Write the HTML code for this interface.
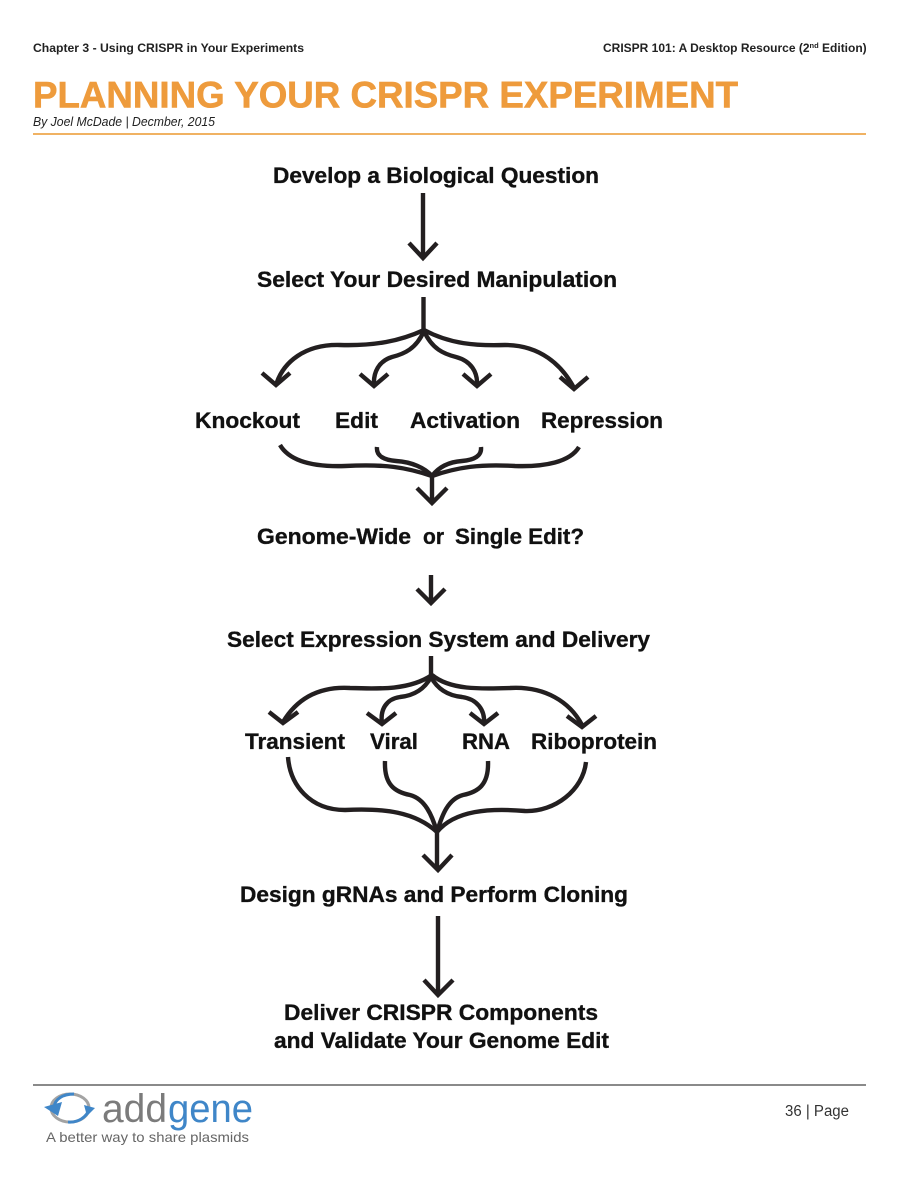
<!DOCTYPE html>
<html lang="en">
<head>
<meta charset="utf-8">
<title>Planning Your CRISPR Experiment</title>
<style>
html,body{margin:0;padding:0;background:#fff;width:910px;height:1200px;overflow:hidden}
svg{display:block}
text{font-family:"Liberation Sans",Arial,sans-serif}
.h{font-size:12.2px;font-weight:bold;fill:#222}
.n{font-size:22.5px;font-weight:bold;fill:#111;stroke:#111;stroke-width:.35px}
.c{fill:none;stroke:#231f20;stroke-width:4.4;stroke-linecap:butt;stroke-linejoin:miter}
</style>
</head>
<body>
<svg width="910" height="1200" viewBox="0 0 910 1200" xmlns="http://www.w3.org/2000/svg">
<rect width="910" height="1200" fill="#fff"/>

<text class="h" x="33" y="52" textLength="271" lengthAdjust="spacingAndGlyphs">Chapter 3 - Using CRISPR in Your Experiments</text>
<text class="h" x="603" y="52" style="font-size:12px">CRISPR 101: A Desktop Resource (2<tspan style="font-size:7.500px" dy="-4">nd</tspan><tspan dy="4"> Edition)</tspan></text>

<text x="33" y="107.500" font-size="37" font-weight="bold" fill="#ee9b3c" stroke="#ee9b3c" stroke-width=".6" textLength="705" lengthAdjust="spacingAndGlyphs">PLANNING YOUR CRISPR EXPERIMENT</text>
<text x="33" y="126" font-size="12.5" font-style="italic" fill="#222" textLength="182" lengthAdjust="spacingAndGlyphs">By Joel McDade | Decmber, 2015</text>
<rect x="33" y="133" width="833" height="2" fill="#f0b263"/>

<text class="n" x="273" y="183" textLength="326" lengthAdjust="spacingAndGlyphs">Develop a Biological Question</text>
<text class="n" x="257" y="287" textLength="360" lengthAdjust="spacingAndGlyphs">Select Your Desired Manipulation</text>
<text class="n" x="195" y="428" textLength="105" lengthAdjust="spacingAndGlyphs">Knockout</text>
<text class="n" x="335" y="428" textLength="43" lengthAdjust="spacingAndGlyphs">Edit</text>
<text class="n" x="410" y="428" textLength="110" lengthAdjust="spacingAndGlyphs">Activation</text>
<text class="n" x="541" y="428" textLength="122" lengthAdjust="spacingAndGlyphs">Repression</text>
<text class="n" x="257" y="544" textLength="154" lengthAdjust="spacingAndGlyphs">Genome-Wide</text>
<text class="n" x="423" y="544" textLength="21" lengthAdjust="spacingAndGlyphs">or</text>
<text class="n" x="455" y="544" textLength="129" lengthAdjust="spacingAndGlyphs">Single Edit?</text>
<text class="n" x="227" y="647" textLength="423" lengthAdjust="spacingAndGlyphs">Select Expression System and Delivery</text>
<text class="n" x="245" y="749" textLength="100" lengthAdjust="spacingAndGlyphs">Transient</text>
<text class="n" x="370" y="749" textLength="48" lengthAdjust="spacingAndGlyphs">Viral</text>
<text class="n" x="462" y="749" textLength="48" lengthAdjust="spacingAndGlyphs">RNA</text>
<text class="n" x="531" y="749" textLength="126" lengthAdjust="spacingAndGlyphs">Riboprotein</text>
<text class="n" x="240" y="902" textLength="388" lengthAdjust="spacingAndGlyphs">Design gRNAs and Perform Cloning</text>
<text class="n" x="284" y="1020" textLength="314" lengthAdjust="spacingAndGlyphs">Deliver CRISPR Components</text>
<text class="n" x="274" y="1048" textLength="335" lengthAdjust="spacingAndGlyphs">and Validate Your Genome Edit</text>

<g class="c">
<path class="c" d="M423 193V258M409 243L423 258L437 243"/>

<path class="c" d="M423.500 297V332"/>
<path class="c" d="M424 330C400 341 375 346 340 345C305 344 283 362 276 385"/>
<path class="c" d="M262 373L276 385L290 373"/>
<path class="c" d="M424 331C416 349 404 354 392 357C379 361 373 372 374 386"/>
<path class="c" d="M360 374L374 386L388 374"/>
<path class="c" d="M424 331C432 349 444 354 456 357C471 361 478 372 477 386"/>
<path class="c" d="M463 374L477 386L491 374"/>
<path class="c" d="M424 330C450 344 476 346 505 345C540 345 562 365 574 388"/>
<path class="c" d="M560 377L574 389L588 377"/>

<path class="c" d="M280 445C290 462 315 467 345 466C385 464 405 467 432 476"/>
<path class="c" d="M377 447C376 456 384 460 396 461C412 462 425 468 432 476"/>
<path class="c" d="M481 447C482 456 474 460 462 461C448 462 438 468 432 476"/>
<path class="c" d="M579 447C570 462 545 467 515 466C480 464 458 467 432 476"/>
<path class="c" d="M432 474V503M417 488L432 503L447 488"/>

<path class="c" d="M431 575V603M417 589L431 603L445 589"/>

<path class="c" d="M431 656V678"/>
<path class="c" d="M432 675C410 690 380 689 350 688C315 686 295 702 283 722"/>
<path class="c" d="M269 712L283 723L298 712"/>
<path class="c" d="M431 677C423 692 410 696 400 697C386 699 380 710 382 723"/>
<path class="c" d="M367 713L382 724L396 713"/>
<path class="c" d="M431 677C439 692 452 696 462 697C477 699 485 710 484 723"/>
<path class="c" d="M470 713L484 724L498 713"/>
<path class="c" d="M432 675C450 690 480 689 510 688C545 686 570 702 582 725"/>
<path class="c" d="M567 716L582 727L596 716"/>

<path class="c" d="M288 757C290 785 310 810 345 810C385 808 415 812 437 832"/>
<path class="c" d="M385 761C384 785 395 792 410 795C425 799 432 815 437 832"/>
<path class="c" d="M488 761C489 785 478 792 463 795C448 799 442 815 437 832"/>
<path class="c" d="M586 762C583 790 555 812 525 811C490 808 455 810 437 832"/>
<path class="c" d="M437 828V868M423 855L438 870L452 855"/>

<path class="c" d="M438 916V995M424 980L438 995L453 980"/>
</g>

<rect x="33" y="1084" width="833" height="2" fill="#8a8a8a"/>

<!-- logo -->
<g fill="none" stroke-width="3">
<ellipse cx="70" cy="1108" rx="19" ry="14" stroke="#a3a3a3"/>
<path d="M54 1107C55 1099 63 1094 74 1094" stroke="#3f86c8"/>
<path d="M68 1122C78 1123 87 1117 89 1109" stroke="#3f86c8"/>
</g>
<path d="M44 1107L62 1102L58 1116Z" fill="#3f86c8"/>
<path d="M95 1108L84 1105L87 1116Z" fill="#3f86c8"/>
<text x="102" y="1122" font-size="40" fill="#7b7b7b" textLength="65" lengthAdjust="spacingAndGlyphs">add</text>
<text x="168" y="1122" font-size="40" fill="#3f86c8" textLength="85" lengthAdjust="spacingAndGlyphs">gene</text>
<text x="46" y="1142" font-size="14" fill="#666" textLength="203" lengthAdjust="spacingAndGlyphs">A better way to share plasmids</text>

<text x="785" y="1116" font-size="15.500" fill="#333" textLength="64" lengthAdjust="spacingAndGlyphs">36 | Page</text>
</svg>
</body>
</html>
